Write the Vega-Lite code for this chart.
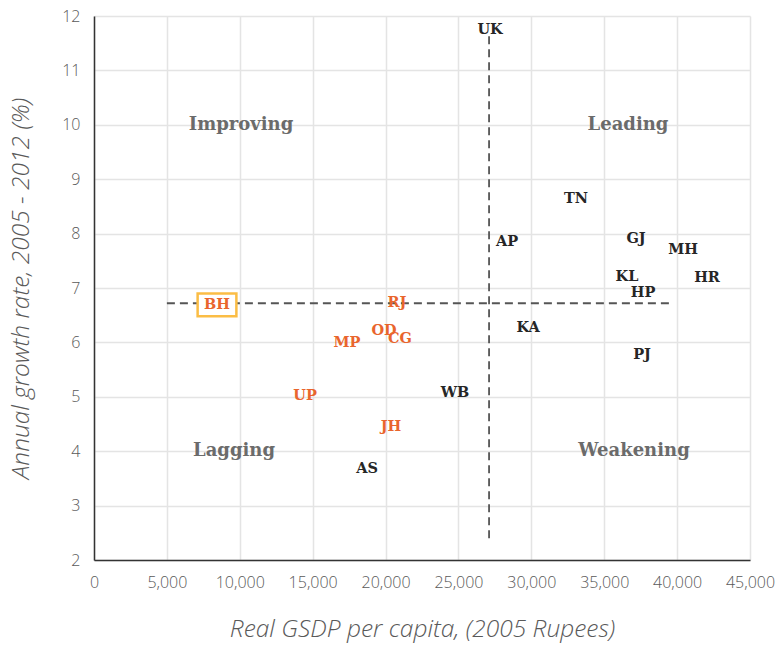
{
  "$schema": "https://vega.github.io/schema/vega-lite/v6.json",
  "width": 656,
  "height": 544,
  "autosize": {"type": "none"},
  "padding": {"left": 94, "top": 16, "right": 30, "bottom": 85},
  "background": "white",
  "config": {
    "view": {"stroke": null},
    "axis": {
      "labelFont": "Open Sans",
      "labelFontSize": 16,
      "labelFontWeight": 300,
      "labelColor": "#595959",
      "labelOverlap": false,
      "labelFlush": false,
      "labelBound": false,
      "titleFont": "Open Sans",
      "titleFontStyle": "italic",
      "titleFontWeight": 300,
      "titleFontSize": 24.5,
      "titleColor": "#595959",
      "gridColor": "#e4e4e4",
      "gridWidth": 1.5,
      "ticks": false,
      "domainColor": "#333333",
      "domainWidth": 1.5
    }
  },
  "datasets": {
    "states": [
      {"state": "UK", "gsdp": 27166, "growth": 11.74, "group": "other"},
      {"state": "TN", "gsdp": 33065, "growth": 8.64, "group": "other"},
      {"state": "AP", "gsdp": 28332, "growth": 7.85, "group": "other"},
      {"state": "GJ", "gsdp": 37181, "growth": 7.90, "group": "other"},
      {"state": "MH", "gsdp": 40405, "growth": 7.70, "group": "other"},
      {"state": "KL", "gsdp": 36564, "growth": 7.20, "group": "other"},
      {"state": "HR", "gsdp": 42052, "growth": 7.18, "group": "other"},
      {"state": "HP", "gsdp": 37661, "growth": 6.91, "group": "other"},
      {"state": "KA", "gsdp": 29772, "growth": 6.26, "group": "other"},
      {"state": "PJ", "gsdp": 37593, "growth": 5.77, "group": "other"},
      {"state": "WB", "gsdp": 24765, "growth": 5.07, "group": "other"},
      {"state": "AS", "gsdp": 18728, "growth": 3.67, "group": "other"},
      {"state": "JH", "gsdp": 20374, "growth": 4.44, "group": "bimaru"},
      {"state": "UP", "gsdp": 14475, "growth": 5.01, "group": "bimaru"},
      {"state": "MP", "gsdp": 17356, "growth": 5.99, "group": "bimaru"},
      {"state": "OD", "gsdp": 19894, "growth": 6.21, "group": "bimaru"},
      {"state": "CG", "gsdp": 20992, "growth": 6.06, "group": "bimaru"},
      {"state": "RJ", "gsdp": 20786, "growth": 6.72, "group": "bimaru"},
      {"state": "BH", "gsdp": 8438, "growth": 6.69, "group": "bimaru"}
    ],
    "quadrants": [
      {"label": "Improving", "gsdp": 10084, "growth": 10.0},
      {"label": "Leading", "gsdp": 36632, "growth": 10.0},
      {"label": "Lagging", "gsdp": 9604, "growth": 4.0},
      {"label": "Weakening", "gsdp": 37044, "growth": 4.0}
    ],
    "hline": [{"x1": 5000, "x2": 39700, "y": 6.72}],
    "vline": [{"x": 27100, "y1": 2.4, "y2": 11.65}],
    "highlight": [{"state": "BH", "gsdp": 8438, "growth": 6.69}]
  },
  "layer": [
    {
      "data": {"name": "quadrants"},
      "mark": {"type": "text", "font": "DejaVu Serif", "fontWeight": "bold", "fontSize": 18, "color": "#6b6b6b"},
      "encoding": {
        "x": {
          "field": "gsdp", "type": "quantitative",
          "scale": {"domain": [0, 45000], "nice": false},
          "axis": {"title": "Real GSDP per capita, (2005 Rupees)", "values": [0, 5000, 10000, 15000, 20000, 25000, 30000, 35000, 40000, 45000], "format": ",d", "labelPadding": 14, "titlePadding": 27}
        },
        "y": {
          "field": "growth", "type": "quantitative",
          "scale": {"domain": [2, 12], "nice": false, "zero": false},
          "axis": {"title": "Annual growth rate, 2005 - 2012 (%)", "values": [2, 3, 4, 5, 6, 7, 8, 9, 10, 11, 12], "labelPadding": 14, "titlePadding": 28}
        },
        "text": {"field": "label"}
      }
    },
    {
      "data": {"name": "hline"},
      "mark": {"type": "rule", "color": "#555555", "strokeWidth": 1.8, "strokeDash": [8, 5]},
      "encoding": {
        "x": {"field": "x1", "type": "quantitative"},
        "x2": {"field": "x2"},
        "y": {"field": "y", "type": "quantitative"}
      }
    },
    {
      "data": {"name": "vline"},
      "mark": {"type": "rule", "color": "#555555", "strokeWidth": 1.8, "strokeDash": [8, 5]},
      "encoding": {
        "x": {"field": "x", "type": "quantitative"},
        "y": {"field": "y1", "type": "quantitative"},
        "y2": {"field": "y2"}
      }
    },
    {
      "data": {"name": "highlight"},
      "mark": {"type": "point", "shape": "M-1.7,-1H1.7V1H-1.7Z", "size": 520, "filled": false, "fill": "white", "fillOpacity": 1, "stroke": "#fbbd45", "strokeWidth": 2.5, "opacity": 1},
      "encoding": {
        "x": {"field": "gsdp", "type": "quantitative"},
        "y": {"field": "growth", "type": "quantitative"}
      }
    },
    {
      "data": {"name": "states"},
      "mark": {"type": "text", "font": "DejaVu Serif", "fontWeight": "bold", "fontSize": 14.5},
      "encoding": {
        "x": {"field": "gsdp", "type": "quantitative"},
        "y": {"field": "growth", "type": "quantitative"},
        "text": {"field": "state"},
        "color": {"field": "group", "type": "nominal", "scale": {"domain": ["other", "bimaru"], "range": ["#262626", "#e9652d"]}, "legend": null}
      }
    }
  ]
}
